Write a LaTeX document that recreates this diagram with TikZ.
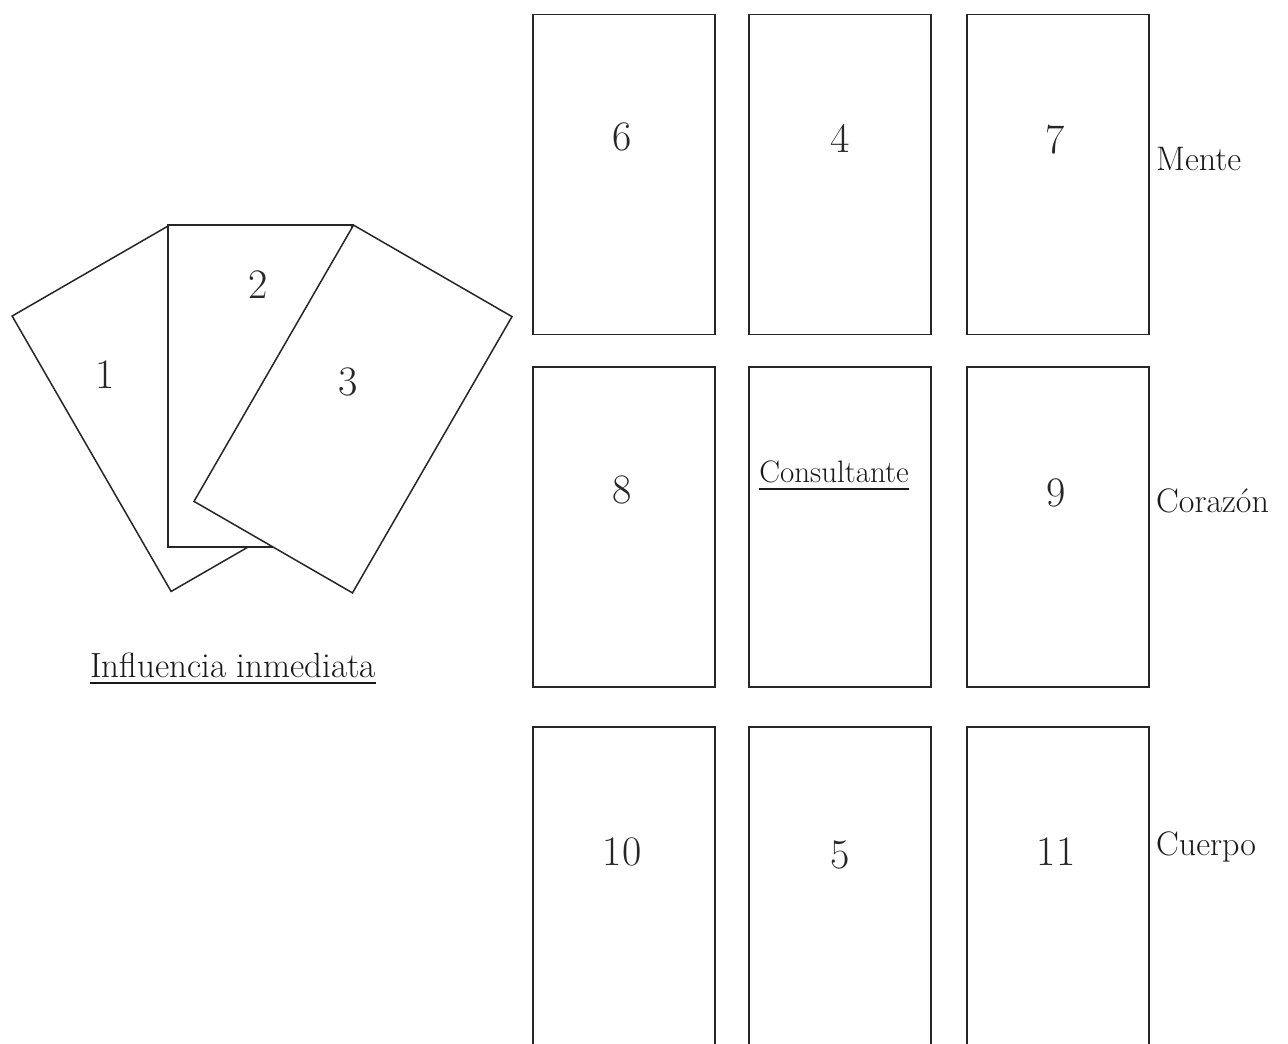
\documentclass[tikz,border=0pt]{standalone}
\usepackage{fontspec}
\begin{document}
\begin{tikzpicture}[x=1pt,y=-1pt,
  cardbox/.style={draw=black!85, fill=white, line width=1.7pt, inner sep=0pt, outer sep=0pt,
                  minimum width=182pt, minimum height=320pt},
  fancard/.style={draw=black!85, fill=white, line width=1.5pt, inner sep=0pt, outer sep=0pt},
  numtxt/.style={text=black!85, font=\fontsize{42}{46}\selectfont, inner sep=0pt},
  sidetxt/.style={text=black!90, font=\fontsize{34}{38}\selectfont, inner sep=0pt, anchor=base west},
  uline/.style={draw=black!90, line width=1.6pt}]
\useasboundingbox (0,0) rectangle (1288,1044);
\clip (0,0) rectangle (1288,1044);
\fill[white] (0,0) rectangle (1288,1044);

% grid of cards
\node[cardbox] (c6)  at (624,174.5) {};
\node[cardbox] (c4)  at (840,174.5) {};
\node[cardbox] (c7)  at (1058,174.5) {};
\node[cardbox] (c8)  at (624,527) {};
\node[cardbox] (cc)  at (840,527) {};
\node[cardbox] (c9)  at (1058,527) {};
\node[cardbox] (c10) at (624,887) {};
\node[cardbox] (c5)  at (840,887) {};
\node[cardbox] (c11) at (1058,887) {};

% fanned cards
\node[fancard, minimum width=181pt, minimum height=318pt, rotate=30]  (f1) at (170,408.5) {};
\node[fancard, minimum width=184pt, minimum height=322pt]             (f2) at (260,386) {};
\node[fancard, minimum width=183pt, minimum height=319pt, rotate=-30] (f3) at (353,409) {};

% numbers
\node[numtxt] (n6)  at (622,137) {6};
\node[numtxt] (n4)  at (840,138) {4};
\node[numtxt] (n7)  at (1055,140) {7};
\node[numtxt] (n8)  at (622,490) {8};
\node[numtxt] (n9)  at (1056,493) {9};
\node[numtxt] (n10) at (622,852) {10};
\node[numtxt] (n5)  at (840,855) {5};
\node[numtxt] (n11) at (1056,852) {11};
\node[numtxt] (n1)  at (105,375) {1};
\node[numtxt] (n2)  at (258,285) {2};
\node[numtxt] (n3)  at (348,382) {3};

% labels
\node[text=black!90, font=\fontsize{31}{35}\selectfont, inner sep=0pt, anchor=base] (cons) at (834,482) {Consultante};
\draw[uline] ([yshift=-7pt]cons.base west) -- ([yshift=-7pt]cons.base east);
\node[text=black!90, font=\fontsize{35}{39}\selectfont, inner sep=0pt, anchor=base] (infl) at (233,677) {Influencia inmediata};
\draw[uline] ([yshift=-6pt]infl.base west) -- ([yshift=-6pt]infl.base east);

\node[sidetxt] (mente) at (1156,170) {Mente};
\node[sidetxt] (cora)  at (1156,512) {Corazón};
\node[sidetxt] (cuer)  at (1156,855) {Cuerpo};
\end{tikzpicture}
\end{document}
